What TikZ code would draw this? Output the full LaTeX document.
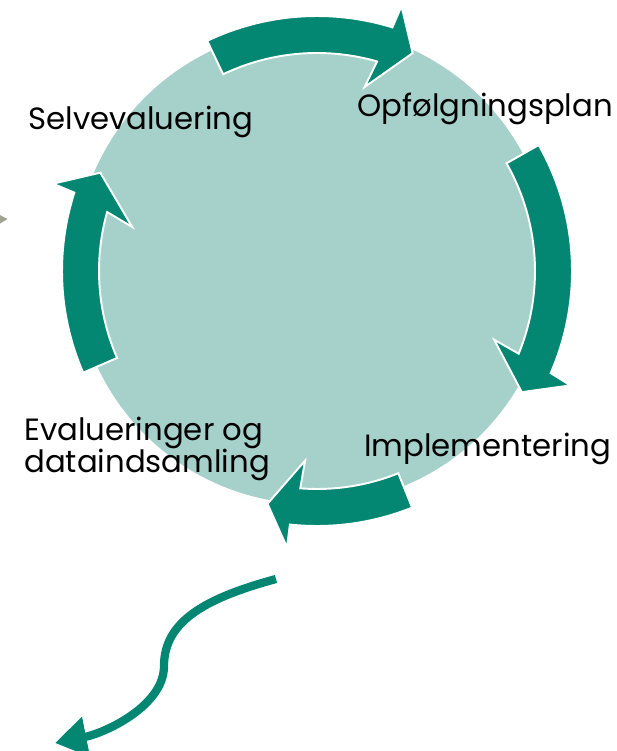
\documentclass[tikz,border=0pt]{standalone}
\usepackage{fontspec}
\setmainfont{Poppins}
\usetikzlibrary{arrows.meta}

\definecolor{cycleteal}{HTML}{038672}
\definecolor{cyclelight}{HTML}{A6D1CB}
\definecolor{cyclegray}{HTML}{A3A392}

\tikzset{
  blockarrow/.style={fill=cycleteal, draw=white, line width=1.1pt},
  steplabel/.style={inner sep=0pt, anchor=base west, font=\fontsize{17.5}{18.7}\selectfont},
}

\begin{document}
\begin{tikzpicture}[x=0.02cm, y=0.02cm]
  \useasboundingbox (0,0) rectangle (616,751);

  % Background circle
  \fill[cyclelight] (313,485) circle (238);

  % Cycle arrows
  \coordinate (ac) at (317,480);
  \filldraw[blockarrow] ([shift={(ac)}]115.5:255) arc[start angle=115.5, end angle=72.8, radius=255]
    -- ([shift={(ac)}]72.3:278) -- ([shift={(ac)}]66.3:238) -- ([shift={(ac)}]75.5:190)
    -- ([shift={(ac)}]74:218) arc[start angle=74, end angle=115.5, radius=218] -- cycle;
  \filldraw[blockarrow] ([shift={(ac)}]29.6:255) arc[start angle=29.6, end angle=-23.6, radius=255]
    -- ([shift={(ac)}]-24.3:278) -- ([shift={(ac)}]-30.6:238) -- ([shift={(ac)}]-21.2:190)
    -- ([shift={(ac)}]-22.3:218) arc[start angle=-22.3, end angle=29.6, radius=218] -- cycle;
  \filldraw[blockarrow] ([shift={(ac)}]-68.1:255) arc[start angle=-68.1, end angle=-96.1, radius=255]
    -- ([shift={(ac)}]-96.2:278) -- ([shift={(ac)}]-102:238) -- ([shift={(ac)}]-93.6:190)
    -- ([shift={(ac)}]-94.4:218) arc[start angle=-94.4, end angle=-68.1, radius=218] -- cycle;
  \filldraw[blockarrow] ([shift={(ac)}]203.5:255) arc[start angle=203.5, end angle=162.1, radius=255]
    -- ([shift={(ac)}]161.7:278) -- ([shift={(ac)}]155.6:238) -- ([shift={(ac)}]166.6:190)
    -- ([shift={(ac)}]164.3:218) arc[start angle=164.3, end angle=203.5, radius=218] -- cycle;

  % Labels
  \node[steplabel] (selv) at (28,621) {Selvevaluering};
  \node[steplabel] (opf) at (357,634) {Opfølgningsplan};
  \node[steplabel] (impl) at (364,294) {Implementering};
  \node[steplabel, align=left] (eval) at (24,278) {Evalueringer og\\dataindsamling};

  % Outgoing arrow
  \coordinate (wstart) at (276,172);
  \coordinate (wend) at (55,8);
  \draw[cycleteal, line width=4.7pt, -{Triangle[length=18pt, width=22pt]}]
    (wstart) .. controls (206,153) and (164,130) .. (164,85)
    .. controls (164,45) and (105,18) .. (wend);

  % Arrow tip at the left edge
  \fill[cyclegray] (-4,538) -- (7.5,532) -- (-4,525) -- cycle;
\end{tikzpicture}
\end{document}
